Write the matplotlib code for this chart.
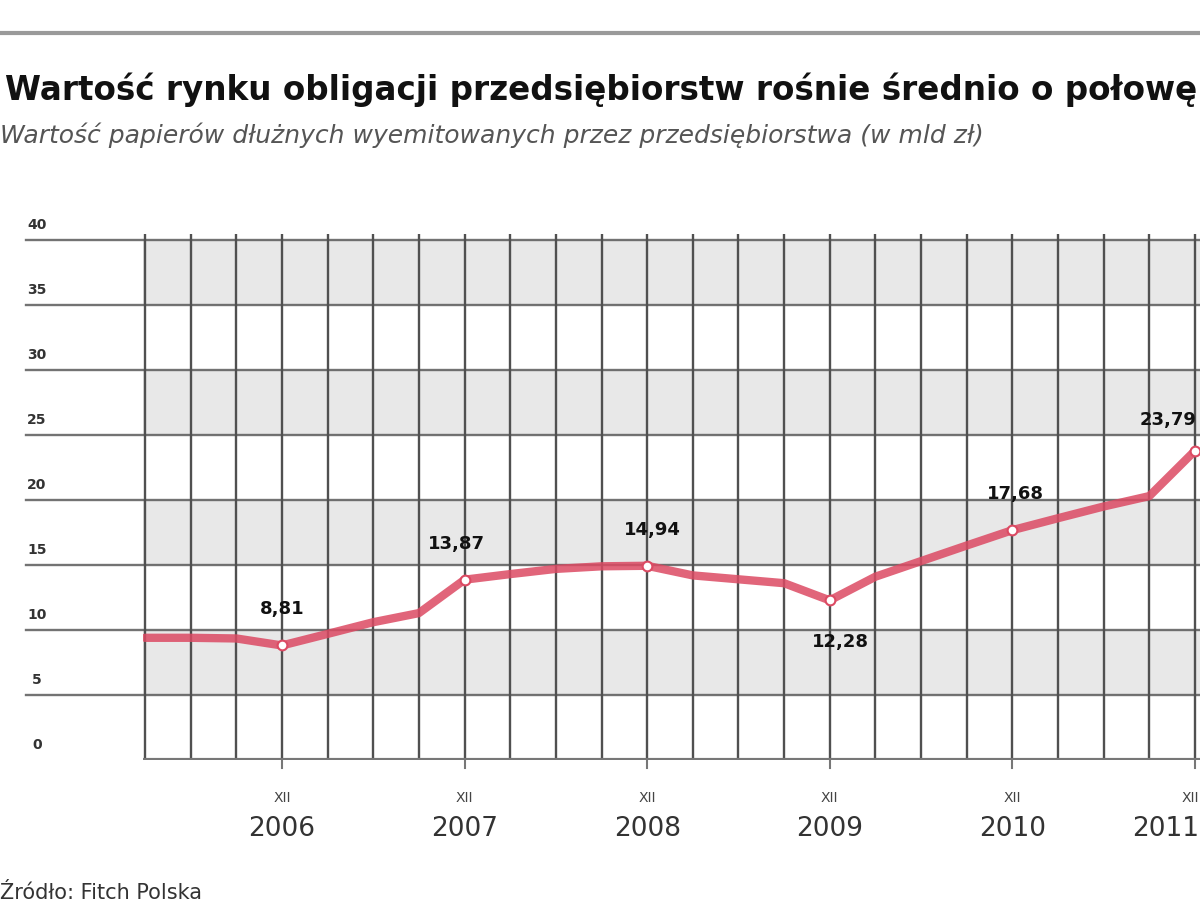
import matplotlib
matplotlib.use("Agg")
import matplotlib.pyplot as plt
import matplotlib.transforms as mtransforms

plt.rcParams['font.family'] = ['DejaVu Sans']

# ---- data ----
quarters = ["III 2006", "VI 2006", "IX 2006", "XII 2006",
            "III 2007", "VI 2007", "IX 2007", "XII 2007",
            "III 2008", "VI 2008", "IX 2008", "XII 2008",
            "III 2009", "VI 2009", "IX 2009", "XII 2009",
            "III 2010", "VI 2010", "IX 2010", "XII 2010",
            "III 2011", "VI 2011", "IX 2011", "XII 2011"]
values = [9.4, 9.4, 9.35, 8.81,
          9.7, 10.6, 11.3, 13.87,
          14.3, 14.7, 14.9, 14.94,
          14.2, 13.9, 13.6, 12.28,
          14.1, 15.3, 16.5, 17.68,
          18.6, 19.5, 20.3, 23.79]
year_labels = ["2006", "2007", "2008", "2009", "2010", "2011"]
month_label = "XII"
y_ticks = [0, 5, 10, 15, 20, 25, 30, 35, 40]

title = "Wartość rynku obligacji przedsiębiorstw rośnie średnio o połowę"
subtitle = "Wartość papierów dłużnych wyemitowanych przez przedsiębiorstwa (w mld zł)"
source = "Źródło: Fitch Polska"

# ---- figure ----
fig = plt.figure(figsize=(12, 9.23), dpi=100)
fig.patch.set_facecolor("white")

# top rule
fig.add_artist(plt.Line2D([0, 1], [1 - 33 / 923, 1 - 33 / 923], color="#9a9a9a", lw=3))

fig.text(0.004, 1 - 90 / 923, title, fontsize=23.5, fontweight="bold", color="#111111",
         va="center", ha="left")
fig.text(0.0, 1 - 135 / 923, subtitle, fontsize=18, style="italic", color="#555555",
         va="center", ha="left")
fig.text(0.0, 1 - 893 / 923, source, fontsize=15, color="#333333", va="center", ha="left")

left_px, right_px = 143, 1260
bottom_px, top_px = 760, 233.5
ax = fig.add_axes([left_px / 1200, 1 - bottom_px / 923,
                   (right_px - left_px) / 1200, (bottom_px - top_px) / 923])

px_per_q = 45.65
x = list(range(len(values)))
ax.set_xlim(-2 / px_per_q, (right_px - 145) / px_per_q)
ax.set_ylim(0, 40.5)

# alternating bands
for lo in [5, 15, 25, 35]:
    ax.axhspan(lo, lo + 5, color="#e8e8e8", zorder=0, lw=0)

# grid
grid_col = "#505050"
for xi in x:
    ax.axvline(xi, color=grid_col, lw=1.7, zorder=1)
blend = mtransforms.blended_transform_factory(ax.transAxes, ax.transData)
for yv in y_ticks[1:]:
    ax.plot([-0.105, 1], [yv, yv], transform=blend, color=grid_col, lw=1.7,
            clip_on=False, zorder=1, alpha=0.8)
ax.axhline(0, color="#777777", lw=3, zorder=2)

for s in ax.spines.values():
    s.set_visible(False)
ax.set_xticks([])
ax.set_yticks([])

# y labels
for yv in y_ticks:
    ax.text(-0.095, yv + 0.6, str(yv), transform=blend, fontsize=10, fontweight="bold",
            color="#333333", ha="center", va="bottom")

# x labels at Q4 points
q4_idx = [i for i, q in enumerate(quarters) if q.startswith("XII")]
for k, (i, yl) in enumerate(zip(q4_idx, year_labels)):
    last = k == len(q4_idx) - 1
    ha = "right" if last else "center"
    dx = 3 if last else 0
    ax.annotate(month_label, (i, 0), xytext=(dx, -27), textcoords="offset points",
                ha=ha, va="center", fontsize=10, color="#444444", annotation_clip=False)
    ax.annotate(yl, (i, 0), xytext=(dx, -50), textcoords="offset points",
                ha=ha, va="center", fontsize=19, color="#333333", annotation_clip=False)
    ax.plot([i, i], [0, -0.6], color="#777777", lw=1.5, clip_on=False)

# line
line_col = "#dc4a63"
ax.plot(x, values, color=line_col, lw=6, alpha=0.85, zorder=4, solid_capstyle="round")
ax.plot([x[i] for i in q4_idx], [values[i] for i in q4_idx], "o", ms=7,
        mfc="white", mec=line_col, mew=1.5, zorder=5)

# data labels
offsets = [(0, 26), (-6, 26), (4, 26), (8, -30), (2, 26), (1, 22)]
for k, (i, off) in enumerate(zip(q4_idx, offsets)):
    last = k == len(q4_idx) - 1
    ax.annotate(f"{values[i]:.2f}".replace(".", ","), (i, values[i]), xytext=off,
                textcoords="offset points", ha="right" if last else "center", va="center",
                fontsize=13, fontweight="bold", color="#111111", zorder=6,
                annotation_clip=False)

fig.savefig("out.png", dpi=100)
